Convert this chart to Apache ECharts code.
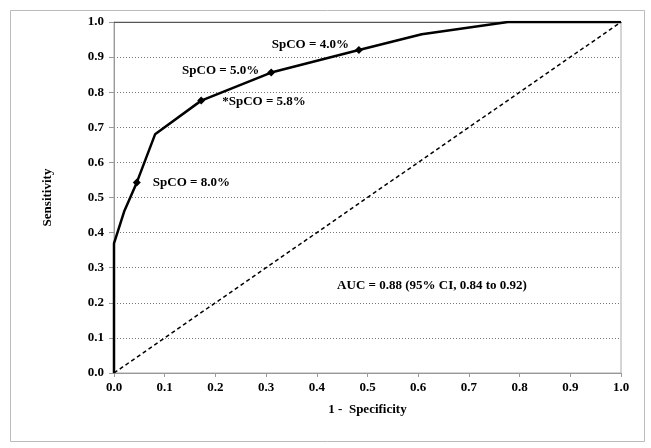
<!DOCTYPE html>
<html>
<head>
<meta charset="utf-8">
<script src="https://cdn.jsdelivr.net/npm/echarts@6/dist/echarts.min.js"></script>
<style>html,body{margin:0;padding:0;background:#fff}#c{width:651px;height:448px}</style>
</head>
<body>
<div id="c"></div>
<script>
// ROC curve (1 - specificity, sensitivity)
const rocX = [0, 0, 0.02, 0.045, 0.081, 0.172, 0.31, 0.483, 0.607, 0.621, 0.777, 1.0];
const rocY = [0, 0.369, 0.46, 0.543, 0.68, 0.776, 0.856, 0.92, 0.965, 0.968, 1.0, 1.0];
// Labelled thresholds
const markX = [0.483, 0.31, 0.172, 0.045];
const markY = [0.92, 0.856, 0.776, 0.543];
const markLabels = ['SpCO = 4.0%', 'SpCO = 5.0%', '*SpCO = 5.8%', 'SpCO = 8.0%'];
const refX = [0, 1];
const refY = [0, 1];
const tickLabels = ['0.0','0.1','0.2','0.3','0.4','0.5','0.6','0.7','0.8','0.9','1.0'];
const aucText = 'AUC = 0.88 (95% CI, 0.84 to 0.92)';
const xName = '1 -  Specificity';
const yName = 'Sensitivity';

const FONT = '"Liberation Serif", "Times New Roman", serif';
const labelCfg = [
  {position: 'left', distance: 6, offset: [0, -5]},
  {position: 'left', distance: 8, offset: [0, -2]},
  {position: 'right', distance: 17, offset: [0, 1]},
  {position: 'right', distance: 12, offset: [0, 0]}
];

const chart = echarts.init(document.getElementById('c'), null, {renderer: 'canvas'});
const fmt = v => tickLabels[Math.round(v * 10)] || '';
const axisText = {fontFamily: FONT, fontWeight: 'bold', fontSize: 13, color: '#000'};

chart.setOption({
  animation: false,
  backgroundColor: '#fff',
  grid: {left: 114, top: 22, width: 507, height: 351, show: true, borderColor: '#aaa', borderWidth: 1},
  xAxis: [{
    type: 'value', min: 0, max: 1, interval: 0.1, position: 'bottom',
    axisLine: {show: true, lineStyle: {color: '#999', width: 1}},
    axisTick: {show: true, length: 4, lineStyle: {color: '#999'}},
    axisLabel: Object.assign({margin: 8, formatter: fmt}, axisText),
    splitLine: {show: false},
    name: xName, nameLocation: 'middle', nameGap: 30,
    nameTextStyle: axisText
  }, {
    type: 'value', min: 0, max: 1, position: 'top',
    axisLine: {show: true, onZero: false, lineStyle: {color: '#555', width: 1.2}},
    axisTick: {show: false}, axisLabel: {show: false}, splitLine: {show: false}
  }],
  yAxis: {
    type: 'value', min: 0, max: 1, interval: 0.1,
    axisLine: {show: true, lineStyle: {color: '#999', width: 1}},
    axisTick: {show: true, length: 5, lineStyle: {color: '#999'}},
    axisLabel: Object.assign({margin: 10, formatter: fmt}, axisText),
    splitLine: {show: true, lineStyle: {color: '#777', type: [1, 2], width: 1}},
    name: yName, nameLocation: 'middle', nameGap: 60, nameRotate: 90,
    nameTextStyle: axisText
  },
  series: [{
    type: 'line', data: refX.map((x, i) => [x, refY[i]]),
    symbol: 'none', lineStyle: {color: '#000', width: 1.5, type: [4, 3]}, z: 2
  }, {
    type: 'line', data: rocX.map((x, i) => [x, rocY[i]]),
    symbol: 'none', lineStyle: {color: '#000', width: 2.5}, z: 3
  }, {
    type: 'scatter', symbol: 'diamond', symbolSize: 8,
    itemStyle: {color: '#000', opacity: 1}, z: 4,
    data: markX.map((x, i) => ({
      value: [x, markY[i]],
      label: Object.assign({show: true, formatter: markLabels[i],
        fontFamily: FONT, fontWeight: 'bold', fontSize: 13, color: '#000'}, labelCfg[i])
    }))
  }],
  graphic: [{
    type: 'rect', left: 8, top: 8, z: -10, silent: true,
    shape: {width: 634, height: 431},
    style: {fill: 'none', stroke: '#bbb', lineWidth: 1}
  }, {
    type: 'text', x: 432, y: 286, silent: true,
    style: {text: aucText, font: 'bold 13px ' + FONT, fill: '#000', align: 'center', verticalAlign: 'middle'}
  }]
});
</script>
</body>
</html>
